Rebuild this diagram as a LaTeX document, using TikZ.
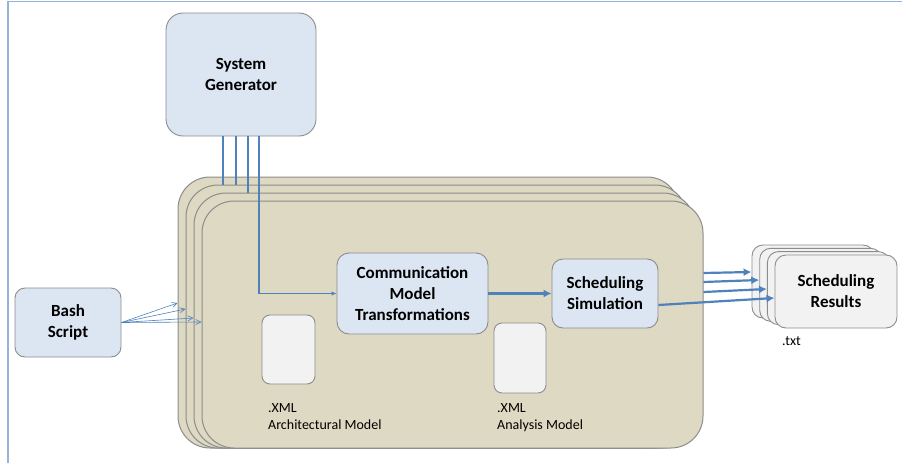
\documentclass[tikz,border=0pt]{standalone}
\usepackage{fontspec}
\setmainfont{Carlito}
\usetikzlibrary{arrows.meta}
\definecolor{boxblue}{HTML}{DCE6F2}
\definecolor{edgegray}{HTML}{8C8C8C}
\definecolor{stacktan}{HTML}{DDD9C3}
\definecolor{paper}{HTML}{F2F2F2}
\definecolor{linkblue}{HTML}{4F81BD}
\definecolor{frameblue}{HTML}{95B3D7}
\begin{document}
\begin{tikzpicture}[x=1pt,y=-1pt,
		blockbox/.style={draw=edgegray,fill=boxblue,line width=0.9pt,rounded corners=12pt,
			inner sep=0pt,align=center,font=\fontsize{17}{21}\selectfont\bfseries},
		stackbox/.style={draw=edgegray,fill=stacktan,line width=1pt,rounded corners=32pt,
			inner sep=0pt,minimum width=501pt},
		resbox/.style={draw=edgegray,fill=paper,line width=0.9pt,rounded corners=11pt,
			inner sep=0pt,minimum width=122pt,minimum height=73pt,align=center,
			font=\fontsize{17}{21}\selectfont\bfseries},
		docbox/.style={draw=edgegray,fill=paper,line width=0.9pt,rounded corners=8pt,inner sep=0pt},
		lbl/.style={inner sep=0pt,align=left,font=\fontsize{14}{17}\selectfont},
		feed/.style={draw=linkblue,line width=1.3pt},
		thinarrow/.style={draw=linkblue,line width=0.6pt,-{Straight Barb[length=5pt,width=5pt]}},
		thickarrow/.style={draw=linkblue,line width=2.2pt,-{Latex[length=8pt,width=8pt]}}]
	\useasboundingbox(0,0)rectangle(902,463);
	\draw[frameblue,line width=1.2pt](902,1.5)--(8,1.5)--(8,463);
	% stacked transformation frames
	\foreach \i/\h in {0/271,1/263,2/255,3/247}
		\node[stackbox,minimum height=\h pt](layer\i)at(428.5+8*\i,312.5+4*\i){};
	% boxes
	\node[blockbox,minimum width=150pt,minimum height=123pt,rounded corners=17pt](sysgen)at(241,74.5){System\\Generator};
	\node[blockbox,minimum width=106pt,minimum height=69pt,rounded corners=10pt](bash)at(68,322.5){Bash\\Script};
	\node[blockbox,minimum width=151pt,minimum height=81pt](comm)at(412.5,293.5){Communication\\Model\\Transformations};
	\node[blockbox,minimum width=106pt,minimum height=69pt,rounded corners=11pt](sched)at(605,293.5){Scheduling\\Simulation};
	\node[docbox,minimum width=53pt,minimum height=69pt](archdoc)at(288.5,349.5){};
	\node[docbox,minimum width=52pt,minimum height=70pt](anadoc)at(520,358){};
	\node[lbl,anchor=north west](archlbl)at(268,403){.XML\\Architectural Model};
	\node[lbl,anchor=north west](analbl)at(497,403){.XML\\Analysis Model};
	\foreach \i in {0,1,2}
		\node[resbox](res\i)at(813+7.7*\i,281.5+3.3*\i){};
	\node[resbox](res3)at(836,291.5){Scheduling\\Results};
	\node[lbl,anchor=base west](txtlbl)at(782,345){.txt};
	% generator feeds
	\coordinate(g1)at(223,136);
	\coordinate(g2)at(236,136);
	\coordinate(g3)at(248,136);
	\coordinate(g4)at(259,136);
	\draw[feed](g1)--(g1|-layer1.north) (g2)--(g2|-layer1.north) (g3)--(g3|-layer2.north);
	\draw[feed,-{Latex[length=5pt,width=4.5pt]}](g4)|-(comm.west);
	% script calls
	\draw[thinarrow](bash.east)--(layer0.west|-0,303);
	\draw[thinarrow](bash.east)--(layer1.west|-0,309);
	\draw[thinarrow](bash.east)--(layer2.west|-0,318);
	\draw[thinarrow](bash.east)--(layer3.west|-0,322);
	% results
	\draw[thickarrow](comm.east)--(sched.west);
	\draw[thickarrow](layer3.east|-0,273)--(res0.west|-0,272);
	\draw[thickarrow](layer3.east|-0,282)--(res1.west|-0,280);
	\draw[thickarrow](layer3.east|-0,292)--(res2.west|-0,289);
	\draw[thickarrow](sched.east|-0,305)--(res3.west|-0,298);
\end{tikzpicture}
\end{document}
